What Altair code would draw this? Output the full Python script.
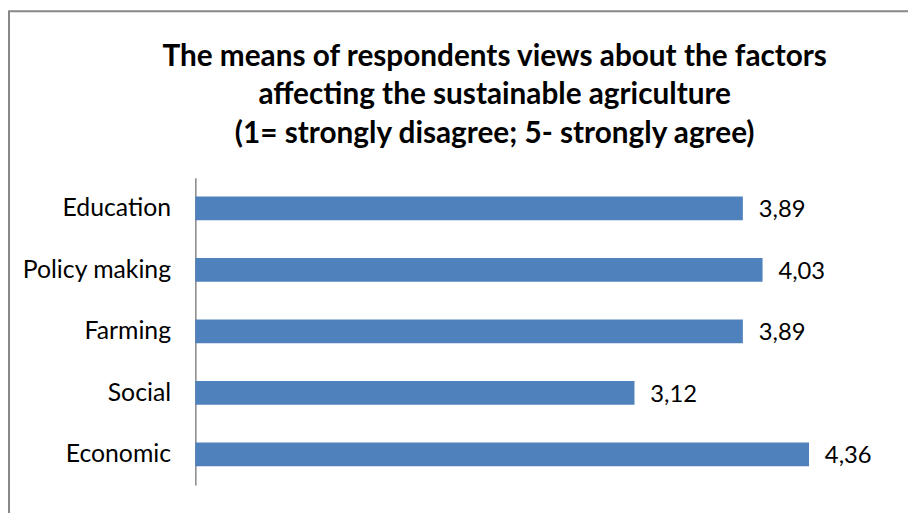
import altair as alt
import pandas as pd

categories = ["Education", "Policy making", "Farming", "Social", "Economic"]
values = [3.89, 4.03, 3.89, 3.12, 4.36]
labels = ["3,89", "4,03", "3,89", "3,12", "4,36"]
title_lines = [
    "The means of respondents views about the factors",
    "affecting the sustainable agriculture",
    "(1= strongly disagree; 5- strongly agree)",
]

df = pd.DataFrame({"category": categories, "value": values, "label": labels})

FONT = "Lato"
BLUE = "#4F81BD"
W = 710

y_enc = alt.Y("category:N", sort=categories, title=None,
              scale=alt.Scale(paddingInner=0.6, paddingOuter=0.3),
              axis=alt.Axis(domainColor="#868686", domainWidth=1.5, ticks=False,
                            labelFontSize=25, labelColor="#000000", labelFont=FONT,
                            labelPadding=25, grid=False))
x_enc = alt.X("value:Q", scale=alt.Scale(domain=[0, 5], nice=False), axis=None)

bars = alt.Chart(df).mark_bar(color=BLUE, size=24).encode(x=x_enc, y=y_enc)
texts = alt.Chart(df).mark_text(align="left", baseline="middle", dx=16, dy=2,
                                fontSize=24, font=FONT, color="#000000").encode(
    x=x_enc, y=alt.Y("category:N", sort=categories), text="label:N")

frame = alt.Chart(pd.DataFrame({"a": [0]})).mark_rect(
    fill=None, stroke="#888888", strokeWidth=2).encode(
    x=alt.value(-188), x2=alt.value(760), y=alt.value(-168), y2=alt.value(400))

chart = alt.layer(frame, bars, texts).properties(
    width=W, height=310,
    autosize=alt.AutoSizeParams(type="none"),
    padding={"left": 189, "top": 169, "right": 9, "bottom": 26},
    title=alt.Title(title_lines, fontSize=30, font=FONT, fontWeight="bold",
                    color="#000000", anchor="middle", frame="group",
                    dx=-(W / 2 - 302), offset=0, dy=140, lineHeight=39),
).configure_view(stroke=None)

chart.save("out.html", embed_options={"renderer": "svg", "actions": False})
